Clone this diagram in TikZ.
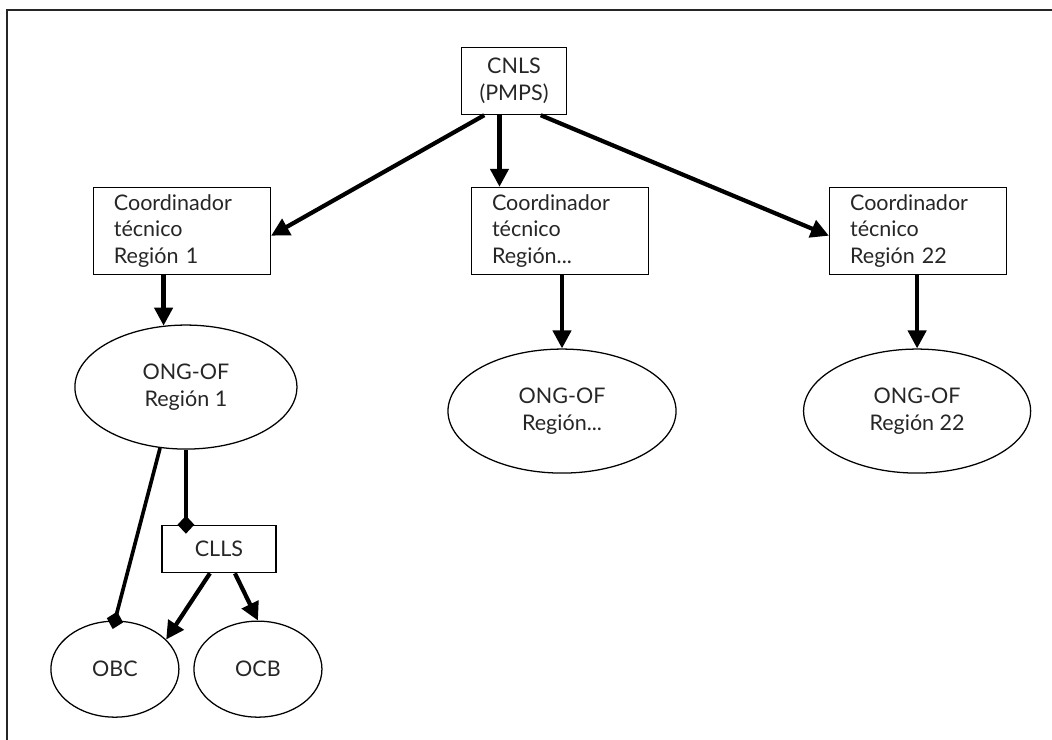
\documentclass[tikz,border=0pt]{standalone}
\usepackage{fontspec}
\setmainfont{Lato}
\usepackage{tikz}
\usetikzlibrary{shapes.geometric, arrows.meta}

\tikzstyle{topbox} = [rectangle, draw=black, line width=1pt, minimum width=2.625cm, minimum height=1.675cm, align=center]
\tikzstyle{coordbox} = [rectangle, draw=black, line width=1pt, minimum width=4.425cm, minimum height=2.175cm, text width=3.4cm, inner xsep=0.5cm, align=left]
\tikzstyle{smallbox} = [rectangle, draw=black, line width=1pt, minimum width=2.85cm, minimum height=1.175cm, align=center]
\tikzstyle{org} = [ellipse, draw=black, line width=0.9pt, inner sep=0pt, align=center, minimum height=3.1cm]
\tikzstyle{base} = [ellipse, draw=black, line width=0.9pt, inner sep=0pt, align=center, minimum width=3.2cm, minimum height=2.4cm]
\tikzstyle{arrow} = [line width=3pt, -{Triangle[length=0.45cm,width=0.45cm]}]
\tikzstyle{link} = [line width=2.6pt, -{Diamond[length=0.45cm,width=0.42cm]}, shorten >=-0.22cm]
\tikzstyle{frame} = [line width=1.4pt, draw=black!85]

\begin{document}
\begin{tikzpicture}[x=0.025cm, y=-0.025cm, font=\fontsize{15.3}{19}\selectfont, text=black!85]

\useasboundingbox (0,0) rectangle (1052,740);
\draw [frame] (7,740) -- (7,10) -- (1052,10);

\node (cnls) [topbox] at (514,81) {CNLS\\(PMPS)};
\node (coord2) [coordbox, node distance=3.75cm, below of=cnls, xshift=1.15cm] {Coordinador\\técnico\\Región...};
\node (coord1) [coordbox, node distance=9.45cm, left of=coord2] {Coordinador\\técnico\\Región 1};
\node (coord3) [coordbox, node distance=8.95cm, right of=coord2] {Coordinador\\técnico\\Región 22};
\node (ell1) [org, minimum width=5.55cm, node distance=3.9cm, below of=coord1, xshift=0.1cm] {ONG-OF\\Región 1};
\node (ell2) [org, minimum width=5.7cm, node distance=4.5cm, below of=coord2, xshift=0.05cm] {ONG-OF\\Región...};
\node (ell3) [org, minimum width=5.675cm, node distance=4.5cm, below of=coord3, xshift=-0.025cm] {ONG-OF\\Región 22};
\node (clls) [smallbox, node distance=4.05cm, below of=ell1, xshift=0.825cm] {CLLS};
\node (obc) [base, node distance=7.05cm, below of=ell1, xshift=-1.775cm] {OBC};
\node (ocb) [base, node distance=3.575cm, right of=obc] {OCB};

\draw [arrow] (cnls.-131) -- (coord1.-3);
\draw [arrow] (cnls.-113) -- (cnls.-113 |- coord2.north);
\draw [arrow] (cnls.-52) -- (coord3.183);
\draw [arrow] (coord1.south -| ell1.110) -- (ell1.110);
\draw [arrow] (coord2.south -| ell2.north) -- (ell2.north);
\draw [arrow] (coord3.south -| ell3.north) -- (ell3.north);
\draw [link] (ell1.south) -- (ell1.south |- clls.north);
\draw [link] (ell1.-113) -- (obc.north);
\draw [arrow] ([xshift=-0.225cm]clls.south) -- (obc.30);
\draw [arrow] ([xshift=0.4cm]clls.south) -- (ocb.north);

\end{tikzpicture}
\end{document}
